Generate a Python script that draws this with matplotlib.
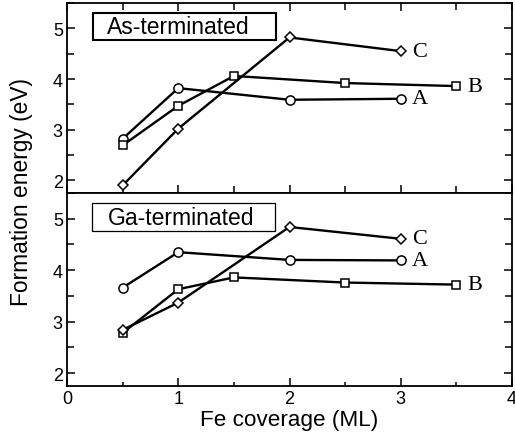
import matplotlib
matplotlib.use("Agg")
import matplotlib.pyplot as plt
from matplotlib.ticker import MultipleLocator
from matplotlib.patches import Rectangle

# As-terminated
as_A_x = [0.5, 1, 2, 3]
as_A_y = [2.82, 3.82, 3.59, 3.61]
as_B_x = [0.5, 1, 1.5, 2.5, 3.5]
as_B_y = [2.69, 3.47, 4.06, 3.92, 3.86]
as_C_x = [0.5, 1, 2, 3]
as_C_y = [1.90, 3.02, 4.82, 4.55]

# Ga-terminated
ga_A_x = [0.5, 1, 2, 3]
ga_A_y = [3.66, 4.35, 4.20, 4.19]
ga_B_x = [0.5, 1, 1.5, 2.5, 3.5]
ga_B_y = [2.78, 3.63, 3.86, 3.76, 3.72]
ga_C_x = [0.5, 1, 2, 3]
ga_C_y = [2.84, 3.37, 4.84, 4.61]

panel_titles = ["As-terminated", "Ga-terminated"]
series_labels = ["A", "B", "C"]

fig = plt.figure(figsize=(5.15, 4.35), dpi=100)
W, H = 515, 435
left, right = 67 / W, 512 / W
ax1 = fig.add_axes([left, 1 - 194 / H, right - left, 190 / H])
ax2 = fig.add_axes([left, 1 - 387 / H, right - left, 193 / H])

serif = ["Liberation Serif", "DejaVu Serif"]
sans = ["Liberation Sans", "DejaVu Sans"]

panels = [
    (ax1, (as_A_x, as_A_y), (as_B_x, as_B_y), (as_C_x, as_C_y), panel_titles[0], 1.5,
     (0.234, 4.765, 1.649, 0.529), (0.36, 5.03)),
    (ax2, (ga_A_x, ga_A_y), (ga_B_x, ga_B_y), (ga_C_x, ga_C_y), panel_titles[1], 0.9,
     (0.225, 4.77, 1.649, 0.54), (0.37, 5.02)),
]

for ax, A, B, C, title, boxlw, rect, tpos in panels:
    ax.plot(A[0], A[1], color="black", lw=1.7, marker="o", ms=6.6,
            mfc="white", mec="black", mew=1.1, zorder=3)
    ax.plot(B[0], B[1], color="black", lw=1.7, marker="s", ms=5.4,
            mfc="white", mec="black", mew=1.1, zorder=3)
    ax.plot(C[0], C[1], color="black", lw=1.7, marker="D", ms=4.6,
            mfc="white", mec="black", mew=1.1, zorder=3)
    for (xs, ys), lab in zip([A, B, C], series_labels):
        ax.text(xs[-1] + 0.1, ys[-1], lab, fontsize=16, family=serif,
                ha="left", va="center")
    ax.set_xlim(0, 4)
    ax.set_ylim(1.75, 5.5)
    ax.xaxis.set_major_locator(MultipleLocator(1))
    ax.xaxis.set_minor_locator(MultipleLocator(0.5))
    ax.yaxis.set_major_locator(MultipleLocator(1))
    ax.yaxis.set_minor_locator(MultipleLocator(0.5))
    ax.tick_params(which="both", direction="in", top=True, right=True,
                   width=1.1, labelsize=13, pad=3)
    ax.tick_params(which="major", length=5.5)
    ax.tick_params(which="minor", length=5)
    for sp in ax.spines.values():
        sp.set_linewidth(1.3)
    for lbl in ax.get_yticklabels() + ax.get_xticklabels():
        lbl.set_fontfamily(sans)
    ax.add_patch(Rectangle((rect[0], rect[1]), rect[2], rect[3], fill=True,
                           fc="white", ec="black", lw=boxlw, zorder=4))
    ax.text(tpos[0], tpos[1], title, fontsize=16.5, family=sans, ha="left",
            va="center", zorder=5)

ax1.tick_params(labelbottom=False)
ax2.tick_params(axis="x", which="both", top=False)
ax2.tick_params(axis="x", which="minor", length=3)
ax2.set_xlabel("Fe coverage (ML)", fontsize=16.2, family=sans, labelpad=1)
fig.text(22 / W, 1 - 192 / H, "Formation energy (eV)", rotation=90, fontsize=16.4,
         family=sans, ha="center", va="center")

fig.savefig("out.png", dpi=100)
